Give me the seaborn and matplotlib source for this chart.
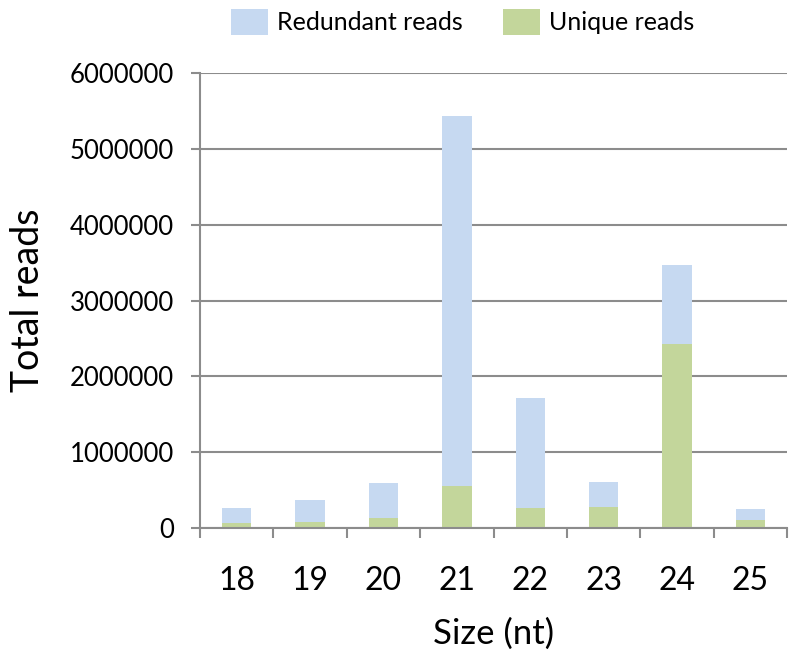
import seaborn as sns
import matplotlib.pyplot as plt
import pandas as pd

sizes = ['18', '19', '20', '21', '22', '23', '24', '25']
redundant = [270000, 370000, 600000, 5430000, 1720000, 610000, 3470000, 255000]
unique = [74000, 88000, 130000, 560000, 270000, 285000, 2430000, 110000]

df = pd.DataFrame({'size': sizes, 'redundant': redundant, 'unique': unique})

sns.set_style('white')
plt.rcParams['font.family'] = ['Lato', 'DejaVu Sans']
plt.rcParams['text.color'] = 'black'
plt.rcParams['axes.labelcolor'] = 'black'
plt.rcParams['xtick.labelcolor'] = 'black'
plt.rcParams['ytick.labelcolor'] = 'black'

fig = plt.figure(figsize=(7.95, 6.59), dpi=100)
ax = fig.add_axes([0.2516, 0.1983, 0.7384, 0.6914])

sns.barplot(data=df, x='size', y='redundant', color='#C6D9F1', width=0.4,
            saturation=1, linewidth=0, label='Redundant reads', ax=ax)
sns.barplot(data=df, x='size', y='unique', color='#C3D69B', width=0.4,
            saturation=1, linewidth=0, label='Unique reads', ax=ax)
if ax.get_legend() is not None:
    ax.get_legend().remove()

grid = '#8C8C8C'
ax.set_ylim(0, 6000000)
ax.set_xlim(-0.5, len(sizes) - 0.5)
ax.set_yticks(range(0, 6000001, 1000000))
ax.set_yticklabels([str(v) for v in range(0, 6000001, 1000000)])
ax.yaxis.grid(True, color=grid, linewidth=1.5)
ax.set_axisbelow(True)

for s in ['top', 'right']:
    ax.spines[s].set_visible(False)
for s in ['left', 'bottom']:
    ax.spines[s].set_color(grid)
    ax.spines[s].set_linewidth(1.5)

ax.set_xticks([i - 0.5 for i in range(len(sizes) + 1)], minor=True)
ax.tick_params(axis='x', which='major', length=0, pad=27, labelsize=23)
ax.tick_params(axis='x', which='minor', length=7, width=1.5, color=grid,
               direction='out', bottom=True)
ax.tick_params(axis='y', length=6.5, width=1.5, color=grid, direction='out',
               left=True, pad=12, labelsize=18.5)

ax.set_xlabel('Size (nt)', fontsize=25, labelpad=16)
ax.set_ylabel('Total reads', fontsize=27, labelpad=17)

handles, labels = ax.get_legend_handles_labels()
fig.legend(handles, labels, loc='center', bbox_to_anchor=(0.582, 0.967),
           ncol=2, frameon=False, fontsize=18, handlelength=1.5,
           handleheight=1.25, handletextpad=0.35, columnspacing=1.6)

plt.savefig('out.png', dpi=100)
